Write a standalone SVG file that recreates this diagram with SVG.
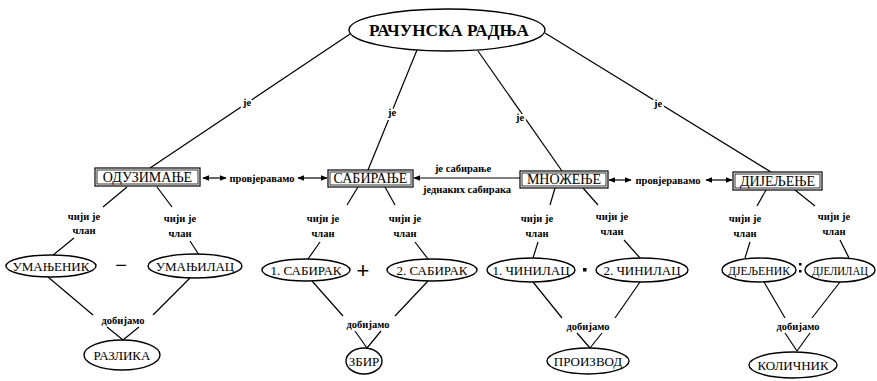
<svg xmlns="http://www.w3.org/2000/svg" width="877" height="381" viewBox="0 0 877 381">
<style>
.ln{stroke:#000;stroke-width:1.2;fill:none}
.el{fill:#fff;stroke:#000;stroke-width:1.4}
.bx{fill:#fff;stroke:#000;stroke-width:1.2}
.bi{fill:none;stroke:#000;stroke-width:0.8}
.nt{font-family:"Liberation Serif",serif;font-size:13px;text-anchor:middle;fill:#000}
.bt{font-family:"Liberation Serif",serif;font-size:14px;text-anchor:middle;fill:#000}
.lb{font-family:"Liberation Serif",serif;font-size:10.5px;font-weight:bold;text-anchor:middle;fill:#000;stroke:#fff;stroke-width:4px;paint-order:stroke;stroke-linejoin:round}
.op{font-family:"Liberation Sans",sans-serif;text-anchor:middle;fill:#000}
</style>
<defs>
<marker id="ah" viewBox="0 0 10 10" refX="9" refY="5" markerWidth="7" markerHeight="7" orient="auto-start-reverse" markerUnits="userSpaceOnUse"><path d="M0,1 L10,5 L0,9 z" fill="#000"/></marker>
</defs>
<rect width="877" height="381" fill="#fff"/>
<g id="connectors">
<line class="ln" x1="350" y1="34" x2="150" y2="168"/>
<line class="ln" x1="417" y1="50" x2="368" y2="170"/>
<line class="ln" x1="478" y1="51" x2="562" y2="171"/>
<line class="ln" x1="545" y1="33" x2="771" y2="172"/>
<text class="lb" x="247" y="106">је</text>
<text class="lb" x="392" y="116">је</text>
<text class="lb" x="520" y="121">је</text>
<text class="lb" x="658" y="107">је</text>
<line class="ln" x1="203" y1="178" x2="226" y2="178" marker-start="url(#ah)" marker-end="url(#ah)"/>
<text class="lb" x="262" y="182">провјеравамо</text>
<line class="ln" x1="298" y1="178" x2="327" y2="178" marker-start="url(#ah)" marker-end="url(#ah)"/>
<line class="ln" x1="520" y1="178" x2="414" y2="178" marker-end="url(#ah)"/>
<text class="lb" x="463" y="172">је сабирање</text>
<text class="lb" x="467" y="193">једнаких сабирака</text>
<line class="ln" x1="609" y1="180" x2="631" y2="180" marker-start="url(#ah)" marker-end="url(#ah)"/>
<text class="lb" x="668" y="184">провјеравамо</text>
<line class="ln" x1="706" y1="180" x2="732" y2="180" marker-start="url(#ah)" marker-end="url(#ah)"/>

<line class="ln" x1="127" y1="187" x2="103" y2="207"/>
<line class="ln" x1="74" y1="238" x2="52" y2="256"/>
<line class="ln" x1="157" y1="187" x2="172" y2="207"/>
<line class="ln" x1="190" y1="241" x2="199" y2="255"/>
<text class="lb" x="84" y="220">чији је</text>
<text class="lb" x="84" y="234">члан</text>
<text class="lb" x="180" y="222">чији је</text>
<text class="lb" x="180" y="237">члан</text>
<line class="ln" x1="48" y1="277" x2="93" y2="315"/>
<line class="ln" x1="153" y1="315" x2="190" y2="278"/>
<text class="lb" x="123" y="324">добијамо</text>
<line class="ln" x1="107" y1="327" x2="123" y2="340"/>
<line class="ln" x1="139" y1="327" x2="123" y2="340"/>

<line class="ln" x1="358" y1="187" x2="347" y2="205"/>
<line class="ln" x1="320" y1="242" x2="308" y2="259"/>
<line class="ln" x1="385" y1="187" x2="395" y2="205"/>
<line class="ln" x1="415" y1="242" x2="428" y2="259"/>
<text class="lb" x="323" y="222">чији је</text>
<text class="lb" x="323" y="237">члан</text>
<text class="lb" x="405" y="222">чији је</text>
<text class="lb" x="405" y="237">члан</text>
<line class="ln" x1="312" y1="281" x2="343" y2="316"/>
<line class="ln" x1="395" y1="316" x2="428" y2="281"/>
<text class="lb" x="368" y="328">добијамо</text>
<line class="ln" x1="355" y1="331" x2="367" y2="348"/>
<line class="ln" x1="381" y1="331" x2="367" y2="348"/>

<line class="ln" x1="555" y1="188" x2="550" y2="205"/>
<line class="ln" x1="538" y1="242" x2="533" y2="258"/>
<line class="ln" x1="583" y1="188" x2="598" y2="205"/>
<line class="ln" x1="624" y1="240" x2="640" y2="258"/>
<text class="lb" x="537" y="222">чији је</text>
<text class="lb" x="537" y="237">члан</text>
<text class="lb" x="612" y="220">чији је</text>
<text class="lb" x="612" y="235">члан</text>
<line class="ln" x1="533" y1="282" x2="562" y2="318"/>
<line class="ln" x1="615" y1="318" x2="640" y2="282"/>
<text class="lb" x="588" y="330">добијамо</text>
<line class="ln" x1="577" y1="333" x2="590" y2="348"/>
<line class="ln" x1="602" y1="333" x2="590" y2="348"/>

<line class="ln" x1="766" y1="190" x2="757" y2="206"/>
<line class="ln" x1="750" y1="242" x2="745" y2="258"/>
<line class="ln" x1="795" y1="190" x2="815" y2="206"/>
<line class="ln" x1="840" y1="240" x2="849" y2="258"/>
<text class="lb" x="745" y="222">чији је</text>
<text class="lb" x="745" y="237">члан</text>
<text class="lb" x="834" y="220">чији је</text>
<text class="lb" x="834" y="235">члан</text>
<line class="ln" x1="764" y1="282" x2="785" y2="318"/>
<line class="ln" x1="812" y1="318" x2="840" y2="282"/>
<text class="lb" x="798" y="330">добијамо</text>
<line class="ln" x1="785" y1="333" x2="797" y2="351"/>
<line class="ln" x1="810" y1="333" x2="797" y2="351"/>
</g>

<g id="n-root"><ellipse class="el" cx="447" cy="30" rx="98" ry="21"/><text class="nt" x="449" y="36" style="font-size:16px;font-weight:bold" textLength="160" lengthAdjust="spacingAndGlyphs">РАЧУНСКА РАДЊА</text></g>

<g id="n-oduzimanje"><rect class="bx" x="95" y="168" width="105" height="18"/><rect class="bi" x="97" y="170" width="101" height="14"/><text class="bt" x="147.5" y="182">ОДУЗИМАЊЕ</text></g>
<g id="n-sabiranje"><rect class="bx" x="328" y="170" width="85" height="17"/><rect class="bi" x="330" y="172" width="81" height="13"/><text class="bt" x="370.5" y="183">САБИРАЊЕ</text></g>
<g id="n-mnozenje"><rect class="bx" x="520" y="171" width="88" height="17"/><rect class="bi" x="522" y="173" width="84" height="13"/><text class="bt" x="564" y="184">МНОЖЕЊЕ</text></g>
<g id="n-dijeljenje"><rect class="bx" x="733" y="172" width="89" height="18"/><rect class="bi" x="735" y="174" width="85" height="14"/><text class="bt" x="777.5" y="186">ДИЈЕЉЕЊЕ</text></g>

<g id="n-umanjenik"><ellipse class="el" cx="51" cy="266" rx="45" ry="11"/><text class="nt" x="51" y="271">УМАЊЕНИК</text></g>
<g id="n-umanjilac"><ellipse class="el" cx="195" cy="266" rx="47" ry="12"/><text class="nt" x="195" y="271">УМАЊИЛАЦ</text></g>
<text class="op" x="121" y="272" style="font-size:20px">−</text>
<g id="n-razlika"><ellipse class="el" cx="122" cy="355" rx="38" ry="15"/><text class="nt" x="122" y="360">РАЗЛИКА</text></g>

<g id="n-sabirak1"><ellipse class="el" cx="306" cy="270" rx="44" ry="11"/><text class="nt" x="306" y="275">1. САБИРАК</text></g>
<g id="n-sabirak2"><ellipse class="el" cx="432" cy="270" rx="45" ry="11"/><text class="nt" x="432" y="275">2. САБИРАК</text></g>
<text class="op" x="363" y="278" style="font-size:22px">+</text>
<g id="n-zbir"><ellipse class="el" cx="364" cy="361" rx="18" ry="13"/><text class="nt" x="364" y="366">ЗБИР</text></g>

<g id="n-cinilac1"><ellipse class="el" cx="531" cy="270" rx="44" ry="12"/><text class="nt" x="531" y="275">1. ЧИНИЛАЦ</text></g>
<g id="n-cinilac2"><ellipse class="el" cx="642" cy="270" rx="46" ry="12"/><text class="nt" x="642" y="275">2. ЧИНИЛАЦ</text></g>
<rect x="583" y="268" width="3.5" height="3.5" fill="#000"/>
<g id="n-proizvod"><ellipse class="el" cx="588" cy="361" rx="41" ry="13"/><text class="nt" x="588" y="366">ПРОИЗВОД</text></g>

<g id="n-djeljenik"><ellipse class="el" cx="759" cy="270" rx="37" ry="12"/><text class="nt" x="759" y="275" style="font-size:12px" textLength="62" lengthAdjust="spacingAndGlyphs">ДЈЕЉЕНИК</text></g>
<g id="n-djelilac"><ellipse class="el" cx="840" cy="270" rx="35" ry="12"/><text class="nt" x="840" y="275" style="font-size:12px" textLength="56" lengthAdjust="spacingAndGlyphs">ДЈЕЛИЛАЦ</text></g>
<rect x="799" y="263" width="2.5" height="2.5" fill="#000"/>
<rect x="799" y="270" width="2.5" height="2.5" fill="#000"/>
<g id="n-kolicnik"><ellipse class="el" cx="793" cy="365" rx="44" ry="13"/><text class="nt" x="793" y="370">КОЛИЧНИК</text></g>
</svg>
